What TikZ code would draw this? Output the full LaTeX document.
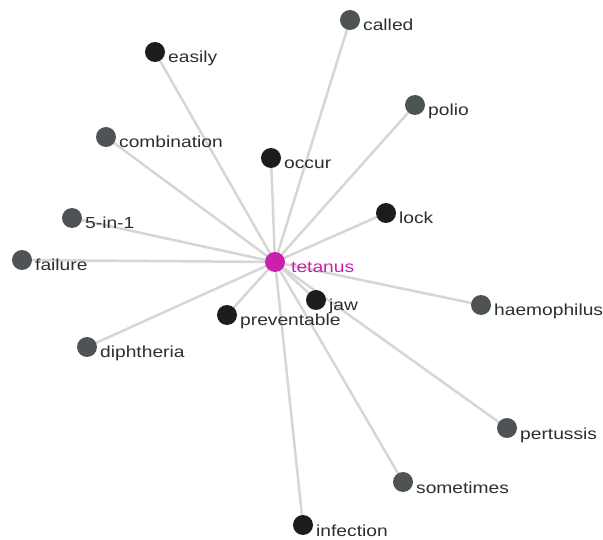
\documentclass[tikz,border=0pt]{standalone}
\usepackage{fontspec}
\setmainfont{Liberation Sans}[FakeStretch=1.2]
\usetikzlibrary{backgrounds}
\definecolor{edgegray}{HTML}{D6D6D6}
\definecolor{termgray}{HTML}{4E5455}
\definecolor{termdark}{HTML}{1C1C1C}
\definecolor{hub}{HTML}{CC1FAE}
\definecolor{labeltxt}{HTML}{2E2E2E}
\tikzset{
  term/.style={circle, fill=termgray, minimum size=20pt, inner sep=0pt},
  darkterm/.style={term, fill=termdark},
  hubterm/.style={term, fill=hub},
  termlabel/.style={anchor=base west, inner sep=0pt, text=labeltxt, font=\fontsize{16}{18}\selectfont},
  link/.style={draw=edgegray, line width=2.5pt}
}
\newcommand{\wordnode}[5]{%
  \node[#1] (#2) at (#3,#4) {};
  \node[termlabel] (#2-l) at ([xshift=13pt,yshift=-11pt]#2.center) {#5};
}
\begin{document}
\begin{tikzpicture}[x=1pt,y=-1pt]
\useasboundingbox (0,0) rectangle (603,540);
% hub term
\node[hubterm] (tetanus) at (275,262) {};
\node[termlabel, text=hub] (tetanus-l) at ([xshift=16pt,yshift=-11pt]tetanus.center) {tetanus};
% co-occurring terms
\wordnode{term}{called}{350}{20}{called}
\wordnode{darkterm}{easily}{155}{52}{easily}
\wordnode{term}{polio}{415}{105}{polio}
\wordnode{term}{combination}{106}{137}{combination}
\wordnode{darkterm}{occur}{271}{158}{occur}
\wordnode{darkterm}{lock}{386}{213}{lock}
\wordnode{term}{fivein}{72}{218}{5-in-1}
\wordnode{term}{failure}{22}{260}{failure}
\wordnode{term}{haemophilus}{481}{305}{haemophilus}
\wordnode{term}{diphtheria}{87}{347}{diphtheria}
\wordnode{term}{pertussis}{507}{428}{pertussis}
\wordnode{term}{sometimes}{403}{482}{sometimes}
\wordnode{darkterm}{infection}{303}{525}{infection}
\wordnode{darkterm}{preventable}{227}{315}{preventable}
\wordnode{darkterm}{jaw}{316}{300}{jaw}
% spokes from the hub, kept behind the circles and labels
\begin{scope}[on background layer]
\foreach \t in {called,easily,polio,combination,occur,lock,fivein,failure,
  haemophilus,diphtheria,pertussis,sometimes,infection,preventable,jaw}
  \draw[link] (tetanus.center) -- (\t.center);
\end{scope}
\end{tikzpicture}
\end{document}
